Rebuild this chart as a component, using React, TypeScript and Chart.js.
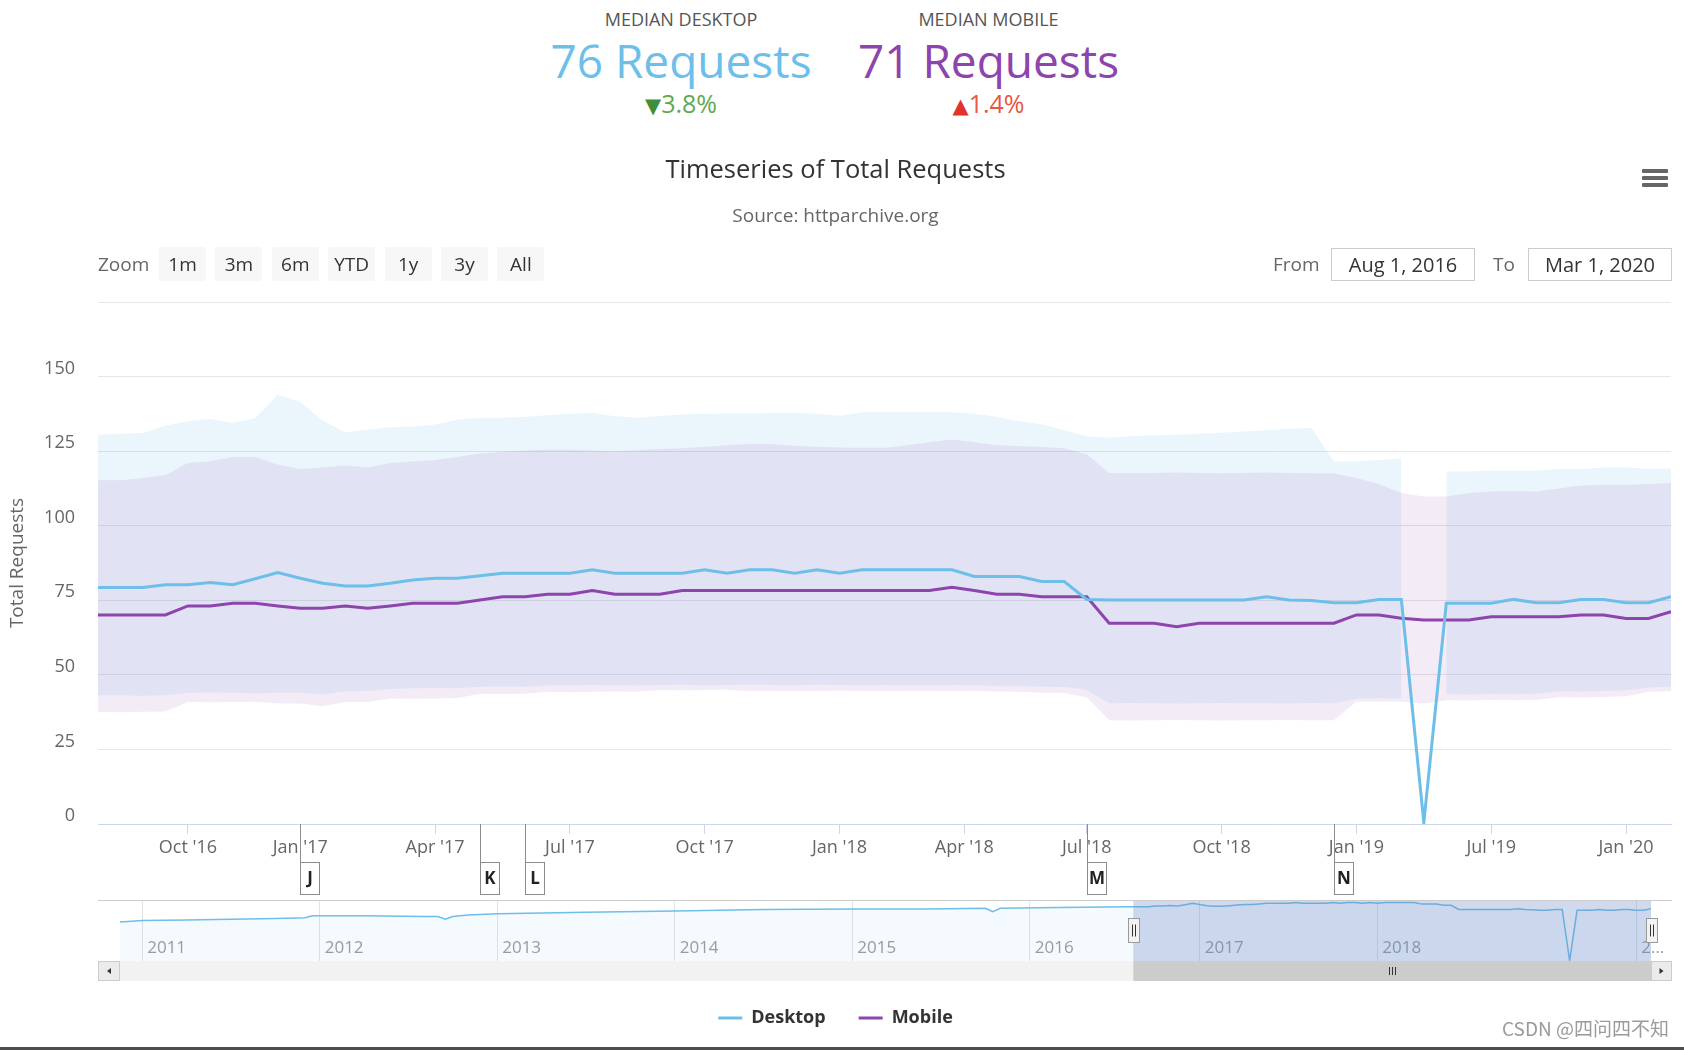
import React, { useEffect, useRef } from 'react';
import { Chart, registerables } from 'chart.js';

Chart.register(...registerables);

const FONT = "'Open Sans', 'DejaVu Sans', sans-serif";
const DESKTOP_COLOR = '#6dbfea';
const MOBILE_COLOR = '#8e44ad';

// ---------------- data ----------------
const dates = [
  '2016-08-01', '2016-08-15', '2016-09-01', '2016-09-15', '2016-10-01', '2016-10-15', '2016-11-01', '2016-11-15', '2016-12-15',
  '2017-01-01', '2017-01-15', '2017-02-01', '2017-02-15', '2017-03-01', '2017-03-15', '2017-04-01', '2017-04-15',
  '2017-05-01', '2017-05-15', '2017-06-01', '2017-06-15', '2017-07-01', '2017-07-15', '2017-08-01', '2017-08-15',
  '2017-09-01', '2017-09-15', '2017-10-01', '2017-10-15', '2017-11-01', '2017-11-15', '2017-12-01', '2017-12-15',
  '2018-01-01', '2018-01-15', '2018-02-01', '2018-02-15', '2018-03-01', '2018-03-15', '2018-04-15', '2018-05-01',
  '2018-05-15', '2018-06-01', '2018-06-15', '2018-07-01', '2018-07-15', '2018-08-01', '2018-08-15', '2018-09-01',
  '2018-09-15', '2018-10-01', '2018-10-15', '2018-11-01', '2018-11-15', '2018-12-01', '2018-12-15',
  '2019-01-01', '2019-02-01', '2019-03-01', '2019-04-01', '2019-05-01', '2019-06-01', '2019-07-01', '2019-08-01',
  '2019-09-01', '2019-10-01', '2019-11-01', '2019-12-01', '2020-01-01', '2020-02-01', '2020-03-01',
];

const desktopMedian = [
  79.3, 79.3, 79.3, 80.2, 80.2, 81.0, 80.2, 82.2, 84.3, 82.4,
  80.7, 79.8, 79.8, 80.7, 81.8, 82.4, 82.4, 83.2, 84.1, 84.1,
  84.1, 84.1, 85.2, 84.1, 84.1, 84.1, 84.1, 85.2, 84.1, 85.2,
  85.2, 84.1, 85.2, 84.1, 85.2, 85.2, 85.2, 85.2, 85.2, 83.0,
  83.0, 83.0, 81.3, 81.3, 75.3, 75.1, 75.1, 75.1, 75.1, 75.1,
  75.1, 75.1, 76.2, 75.1, 74.9, 74.2, 74.2, 75.3, 75.3, 0.5,
  74.0, 74.0, 74.0, 75.3, 74.2, 74.2, 75.3, 75.3, 74.2, 74.2,
  76.2,
];

const mobileMedian = [
  70.1, 70.1, 70.1, 70.1, 73.1, 73.1, 74.0, 74.0, 73.1, 72.3,
  72.3, 73.1, 72.3, 73.1, 74.0, 74.0, 74.0, 75.1, 76.2, 76.2,
  77.0, 77.0, 78.3, 77.0, 77.0, 77.0, 78.3, 78.3, 78.3, 78.3,
  78.3, 78.3, 78.3, 78.3, 78.3, 78.3, 78.3, 78.3, 79.4, 78.3,
  77.0, 77.0, 76.2, 76.2, 76.2, 67.3, 67.3, 67.3, 66.1, 67.3,
  67.3, 67.3, 67.3, 67.3, 67.3, 67.3, 70.1, 70.1, 69.0, 68.4,
  68.4, 68.4, 69.5, 69.5, 69.5, 69.5, 70.1, 70.1, 68.9, 68.9,
  71.2,
];

const desktopHigh = [
  130.5, 130.8, 131.1, 133.5, 135.0, 135.8, 134.5, 136.0, 144.0, 141.5,
  135.3, 131.3, 132.2, 133.0, 133.3, 133.9, 135.5, 136.2, 136.2, 136.5,
  137.0, 137.5, 137.8, 136.7, 136.2, 136.8, 137.3, 137.5, 137.6, 137.6,
  137.8, 137.8, 137.5, 136.9, 138.0, 138.0, 138.0, 138.0, 138.0, 137.5,
  136.5, 135.0, 134.0, 132.0, 130.0, 129.5, 130.0, 130.3, 130.5, 130.8,
  131.2, 131.6, 132.0, 132.5, 132.8, 121.5, 121.5, 122.0, 122.5, null,
  118.2, 118.2, 118.5, 118.5, 118.5, 119.0, 119.0, 119.5, 119.5, 119.0,
  119.3,
];

const desktopLow = [
  43.2, 43.2, 43.0, 43.2, 44.0, 44.2, 44.0, 43.8, 44.0, 44.1,
  43.5, 44.5, 44.6, 45.3, 45.5, 45.6, 45.5, 46.0, 46.1, 46.0,
  46.4, 46.5, 46.6, 46.5, 46.4, 46.6, 46.7, 46.5, 46.6, 46.8,
  46.6, 46.5, 46.7, 46.6, 46.5, 46.6, 46.5, 46.4, 46.6, 46.5,
  46.3, 46.2, 46.0, 45.9, 45.0, 40.5, 40.6, 40.5, 40.4, 40.5,
  40.6, 40.5, 40.5, 40.4, 40.6, 40.5, 42.0, 42.2, 42.0, null,
  43.5, 43.4, 43.6, 43.5, 43.7, 44.5, 44.4, 44.6, 44.8, 45.8,
  46.0,
];

const mobileHigh = [
  115.2, 115.2, 116.0, 117.0, 121.0, 121.6, 123.0, 123.0, 120.5, 119.0,
  119.5, 120.2, 119.5, 121.0, 121.5, 122.0, 123.0, 124.2, 124.8, 125.2,
  125.5, 125.5, 125.2, 125.0, 125.3, 125.7, 126.0, 126.5, 127.0, 127.5,
  127.3, 126.8, 126.5, 126.2, 126.1, 126.1, 127.0, 128.0, 128.9, 128.0,
  127.0, 126.7, 126.4, 126.0, 124.0, 117.7, 117.6, 117.7, 117.8, 117.7,
  117.6, 117.7, 117.8, 117.7, 117.6, 117.5, 116.0, 114.0, 111.0, 109.8,
  109.8, 111.0, 111.5, 111.6, 111.5, 112.5, 113.5, 113.7, 113.7, 114.0,
  114.3,
];

const mobileLow = [
  37.6, 37.5, 37.6, 37.7, 40.9, 40.8, 40.9, 41.0, 40.4, 40.4,
  39.5, 40.9, 40.9, 42.1, 42.0, 42.1, 42.2, 43.7, 43.6, 43.7,
  44.3, 44.2, 44.3, 44.4, 44.3, 44.9, 44.8, 44.9, 45.0, 44.6,
  44.6, 44.5, 44.6, 44.7, 44.6, 44.5, 44.6, 44.6, 44.5, 44.6,
  44.4, 44.3, 44.0, 43.9, 42.5, 34.8, 34.7, 34.8, 34.9, 34.8,
  34.7, 34.8, 34.8, 34.9, 34.8, 34.8, 41.0, 41.1, 41.0, 40.4,
  41.5, 41.4, 41.6, 41.5, 41.6, 42.5, 42.4, 42.6, 42.8, 44.3,
  44.5,
];

const xTickDates = [
  '2016-10-01', '2017-01-01', '2017-04-01', '2017-07-01', '2017-10-01', '2018-01-01',
  '2018-04-01', '2018-07-01', '2018-10-01', '2019-01-01', '2019-07-01', '2020-01-01',
];
const xTickLabels = [
  "Oct '16", "Jan '17", "Apr '17", "Jul '17", "Oct '17", "Jan '18",
  "Apr '18", "Jul '18", "Oct '18", "Jan '19", "Jul '19", "Jan '20",
];

const yTickValues = [0, 25, 50, 75, 100, 125, 150, 175];

const flagDates = ['2017-01-01', '2017-05-01', '2017-06-01', '2018-07-01', '2018-12-15'];
const flagLetters = ['J', 'K', 'L', 'M', 'N'];

// navigator (full history of the desktop median)
const navHistDates = [
  '2010-11-15', '2011-01-01', '2011-04-01', '2011-07-01', '2011-10-01', '2011-12-01', '2011-12-15',
  '2012-04-01', '2012-08-01', '2012-09-01', '2012-09-15', '2012-10-01', '2012-11-01', '2013-01-01',
  '2013-07-01', '2014-01-01', '2014-07-01', '2015-01-01', '2015-06-01', '2015-10-01', '2015-10-15',
  '2015-11-01', '2016-03-01', '2016-07-15',
];
const navHistValues = [
  57, 59, 60, 61, 62, 63, 66,
  66, 65, 65, 61, 65, 67, 69,
  71, 73, 75, 76, 76, 77, 72,
  77, 78, 79,
];
const navYearDates = [
  '2011-01-01', '2012-01-01', '2013-01-01', '2014-01-01', '2015-01-01',
  '2016-01-01', '2017-01-01', '2018-01-01', '2020-01-01',
];
const navYearLabels = ['2011', '2012', '2013', '2014', '2015', '2016', '2017', '2018', '2…'];

const rangeFrom = '2016-08-01';
const rangeTo = '2020-03-01';
const zoomButtons = ['1m', '3m', '6m', 'YTD', '1y', '3y', 'All'];

const medianDesktop = 76;
const medianMobile = 71;
const desktopChange = -3.8;
const mobileChange = 1.4;

const MONTHS = ['Jan', 'Feb', 'Mar', 'Apr', 'May', 'Jun', 'Jul', 'Aug', 'Sep', 'Oct', 'Nov', 'Dec'];

// ---------------- helpers ----------------
const ts = (d: string) => {
  const [y, m, dd] = d.split('-').map(Number);
  return Date.UTC(y, m - 1, dd);
};
const T = dates.map(ts);
// ordinal (equal spacing per data point) position, like an ordinal stock axis
function ordinalPos(d: string) {
  const t = ts(d);
  for (let i = 0; i < T.length - 1; i++) {
    if (t >= T[i] && t <= T[i + 1]) return i + (t - T[i]) / (T[i + 1] - T[i]);
  }
  return t < T[0] ? 0 : T.length - 1;
}
// navigator ordinal: twice-monthly runs in the history, then the actual runs of the main series
function histOrd(d: string) {
  const [y, m, dd] = d.split('-').map(Number);
  return ((y - 2010) * 12 + (m - 1)) * 2 + (dd >= 15 ? 1 : 0) - 21;
}
function navPos(d: string) {
  if (ts(d) >= T[0]) return histOrd(dates[0]) + ordinalPos(d);
  return histOrd(d);
}
function fmtDate(d: string) {
  const [y, m, dd] = d.split('-').map(Number);
  return `${MONTHS[m - 1]} ${dd}, ${y}`;
}
const pts = (arr: any[]) => arr.map((v, i) => ({ x: i, y: v }));

// ---------------- main chart ----------------
function MainChart() {
  const ref = useRef<HTMLCanvasElement>(null);
  useEffect(() => {
    const xTicks = xTickDates.map(ordinalPos);
    const flagsPlugin = {
      id: 'flags',
      afterDraw(chart: any) {
        const { ctx, chartArea } = chart;
        const x = chart.scales.x;
        ctx.save();
        flagDates.forEach((d, k) => {
          const px = Math.round(x.getPixelForValue(ordinalPos(d))) + 0.5;
          const top = 722.5, h = 32, w = 19;
          ctx.strokeStyle = '#8c8c8c';
          ctx.lineWidth = 1;
          ctx.beginPath();
          ctx.moveTo(px, chartArea.bottom);
          ctx.lineTo(px, top);
          ctx.stroke();
          ctx.fillStyle = '#ffffff';
          ctx.fillRect(px, top, w, h);
          ctx.strokeRect(px, top, w, h);
          ctx.fillStyle = '#222';
          ctx.font = `bold 17px ${FONT}`;
          ctx.textAlign = 'center';
          ctx.textBaseline = 'middle';
          ctx.fillText(flagLetters[k], px + w / 2, top + h / 2 + 1);
        });
        ctx.restore();
      },
    };
    const band = (data: any[], color: string | undefined, fill: any) => ({
      label: '',
      data: pts(data),
      borderWidth: 0,
      borderColor: 'transparent',
      backgroundColor: color || 'transparent',
      pointRadius: 0,
      fill,
      tension: 0,
    });
    const chart = new Chart(ref.current as HTMLCanvasElement, {
      type: 'line',
      data: {
        datasets: [
          { label: 'Desktop', data: pts(desktopMedian), borderColor: DESKTOP_COLOR, backgroundColor: DESKTOP_COLOR, borderWidth: 3, pointRadius: 0, fill: false, tension: 0 },
          { label: 'Mobile', data: pts(mobileMedian), borderColor: MOBILE_COLOR, backgroundColor: MOBILE_COLOR, borderWidth: 3, pointRadius: 0, fill: false, tension: 0 },
          band(mobileHigh, 'rgba(142,68,173,0.105)', '+1'),
          band(mobileLow, undefined, false),
          band(desktopHigh, 'rgba(114,194,236,0.15)', '+1'),
          band(desktopLow, undefined, false),
        ] as any,
      },
      options: {
        responsive: false,
        animation: false,
        events: [],
        layout: { padding: { left: 0, right: 13, top: 0, bottom: 13 } },
        plugins: {
          title: {
            display: true,
            text: 'Timeseries of Total Requests',
            color: '#333333',
            font: { family: FONT, size: 25.5, weight: 'normal' },
            padding: { top: 15.4, bottom: 0 },
          },
          subtitle: {
            display: true,
            text: 'Source: httparchive.org',
            color: '#666666',
            font: { family: FONT, size: 19, weight: 'normal' },
            padding: { top: 18.7, bottom: 74.5 },
          },
          legend: {
            display: true,
            position: 'bottom',
            labels: {
              filter: (item: any) => item.datasetIndex < 2,
              usePointStyle: true,
              pointStyle: 'line',
              pointStyleWidth: 24,
              padding: 33,
              color: '#333333',
              font: { family: FONT, size: 18, weight: 'bold' },
            },
          },
          tooltip: { enabled: false },
        },
        scales: {
          x: {
            type: 'linear',
            min: 0,
            max: dates.length - 1,
            afterBuildTicks: (s: any) => { s.ticks = xTicks.map((v) => ({ value: v })); },
            afterFit: (s: any) => { s.height = 152; },
            ticks: {
              autoSkip: false,
              maxRotation: 0,
              padding: 3,
              color: '#666666',
              font: { family: FONT, size: 18 },
              callback: (_v: any, i: number) => xTickLabels[i],
            },
            grid: { display: true, drawOnChartArea: false, drawTicks: true, tickLength: 10, color: '#ccd6eb' },
            border: { display: true, color: '#ccd6eb' },
          },
          y: {
            min: 0,
            max: 175,
            afterBuildTicks: (s: any) => { s.ticks = yTickValues.map((v) => ({ value: v })); },
            afterFit: (s: any) => { s.width = 98; },
            ticks: {
              padding: 23,
              labelOffset: -8,
              color: '#666666',
              font: { family: FONT, size: 18 },
              callback: (v: any) => (v === 175 ? '' : String(v)),
            },
            grid: { color: '#e6e6e6', drawTicks: false },
            border: { display: false },
            title: {
              display: true,
              text: 'Total Requests',
              color: '#666666',
              font: { family: FONT, size: 19 },
              padding: { top: 6.5, bottom: 0 },
            },
          },
        },
      } as any,
      plugins: [flagsPlugin],
    });
    return () => chart.destroy();
  }, []);
  return <canvas ref={ref} width={1684} height={910} style={{ position: 'absolute', left: 0, top: 140 }} />;
}

// ---------------- navigator ----------------
function NavigatorChart() {
  const ref = useRef<HTMLCanvasElement>(null);
  useEffect(() => {
    const navData = [
      ...navHistDates.map((d, i) => ({ x: navPos(d), y: navHistValues[i] })),
      ...dates.map((d, i) => ({ x: navPos(d), y: desktopMedian[i] })),
    ];
    const yearTicks = navYearDates.map(navPos);
    const decor = {
      id: 'navDecor',
      afterDraw(chart: any) {
        const { ctx, chartArea: ca } = chart;
        const x = chart.scales.x;
        const x0 = x.getPixelForValue(navPos(rangeFrom));
        const x1 = x.getPixelForValue(navPos(rangeTo));
        const left = 98, right = 1672;
        ctx.save();
        // selected-range mask
        ctx.fillStyle = 'rgba(102,133,194,0.3)';
        ctx.fillRect(x0, ca.top, x1 - x0, ca.bottom - ca.top);
        // outline
        ctx.strokeStyle = '#cccccc';
        ctx.lineWidth = 1;
        ctx.beginPath();
        ctx.moveTo(left, ca.top + 0.5);
        ctx.lineTo(right, ca.top + 0.5);
        ctx.stroke();
        // scrollbar track
        const sy = ca.bottom, sh = 20;
        ctx.fillStyle = '#f2f2f2';
        ctx.fillRect(left, sy, right - left, sh);
        // thumb
        ctx.fillStyle = '#cccccc';
        ctx.fillRect(x0, sy, x1 - x0, sh);
        const cx = Math.round((x0 + x1) / 2) + 0.5;
        ctx.strokeStyle = '#333';
        ctx.beginPath();
        [-3, 0, 3].forEach((o) => { ctx.moveTo(cx + o, sy + 6); ctx.lineTo(cx + o, sy + 14); });
        ctx.stroke();
        // buttons
        const drawBtn = (bx0: number, bx1: number, dir: number) => {
          ctx.fillStyle = '#ebebeb';
          ctx.fillRect(bx0, sy, bx1 - bx0, sh);
          ctx.strokeStyle = '#cccccc';
          ctx.strokeRect(bx0 + 0.5, sy + 0.5, bx1 - bx0 - 1, sh - 1);
          const mx = (bx0 + bx1) / 2, my = sy + sh / 2;
          ctx.fillStyle = '#333';
          ctx.beginPath();
          ctx.moveTo(mx + 2 * dir, my);
          ctx.lineTo(mx - 2 * dir, my - 3);
          ctx.lineTo(mx - 2 * dir, my + 3);
          ctx.closePath();
          ctx.fill();
        };
        drawBtn(left, ca.left, -1);
        drawBtn(ca.right, right, 1);
        // handles
        [x0, x1].forEach((hx) => {
          const rx = Math.round(hx - 5.5) + 0.5, ry = ca.top + 18.5;
          ctx.fillStyle = '#f2f2f2';
          ctx.fillRect(rx, ry, 11, 24);
          ctx.strokeStyle = '#999999';
          ctx.strokeRect(rx, ry, 11, 24);
          ctx.strokeStyle = '#333';
          ctx.beginPath();
          ctx.moveTo(rx + 4, ry + 6); ctx.lineTo(rx + 4, ry + 18);
          ctx.moveTo(rx + 7, ry + 6); ctx.lineTo(rx + 7, ry + 18);
          ctx.stroke();
        });
        ctx.restore();
      },
    };
    const chart = new Chart(ref.current as HTMLCanvasElement, {
      type: 'line',
      data: {
        datasets: [{
          label: 'Desktop',
          data: navData,
          borderColor: DESKTOP_COLOR,
          borderWidth: 1.5,
          backgroundColor: 'rgba(114,194,236,0.08)',
          fill: 'origin',
          pointRadius: 0,
          tension: 0,
        }],
      },
      options: {
        responsive: false,
        animation: false,
        events: [],
        layout: { padding: { left: 120, right: 33, top: 5, bottom: 0 } },
        plugins: { legend: { display: false }, tooltip: { enabled: false }, title: { display: false } },
        scales: {
          x: {
            type: 'linear',
            min: 0,
            max: navPos(rangeTo),
            afterBuildTicks: (s: any) => { s.ticks = yearTicks.map((v) => ({ value: v })); },
            afterFit: (s: any) => { s.height = 24; },
            ticks: {
              autoSkip: false,
              maxRotation: 0,
              align: 'start',
              mirror: true,
              labelOffset: 5,
              padding: 3,
              color: '#999999',
              font: { family: FONT, size: 17 },
              callback: (_v: any, i: number) => navYearLabels[i],
            },
            grid: { drawOnChartArea: true, drawTicks: false, color: '#e3e3e3' },
            border: { display: false },
          },
          y: { display: false, min: 0, max: 89 },
        },
      } as any,
      plugins: [decor],
    });
    return () => chart.destroy();
  }, []);
  return <canvas ref={ref} width={1684} height={90} style={{ position: 'absolute', left: 0, top: 895 }} />;
}

// ---------------- header stats ----------------
function Stat(props: { cx: number; label: string; value: number; color: string; change: number }) {
  const { cx, label, value, color, change } = props;
  const up = change > 0;
  const triColor = up ? '#e0332a' : '#3f8f3a';
  const txtColor = up ? '#e8573f' : '#62a851';
  const box = { position: 'absolute' as const, left: cx - 200, width: 400, textAlign: 'center' as const, lineHeight: 1, whiteSpace: 'nowrap' as const };
  return (
    <>
      <div style={{ ...box, top: 10, fontSize: 18, color: '#555' }}>{label}</div>
      <div style={{ ...box, top: 37, fontSize: 46, color }}>{value} Requests</div>
      <div style={{ ...box, top: 91, fontSize: 25 }}>
        <span style={{ color: triColor, fontFamily: "'DejaVu Sans', sans-serif", fontSize: 21 }}>{up ? '▲' : '▼'}</span>
        <span style={{ color: txtColor }}>{Math.abs(change).toFixed(1)}%</span>
      </div>
    </>
  );
}

export default function App() {
  const btnBase = {
    position: 'absolute' as const, top: 247, height: 34, lineHeight: '34px', fontSize: 19,
    textAlign: 'center' as const, color: '#333', background: '#f7f7f7', borderRadius: 2,
  };
  const inputBase = {
    position: 'absolute' as const, top: 248, height: 33, width: 144, boxSizing: 'border-box' as const,
    border: '1px solid #cccccc', lineHeight: '31px', fontSize: 20, textAlign: 'center' as const, color: '#333',
    background: '#fff',
  };
  return (
    <div style={{ position: 'relative', width: 1684, height: 1050, background: '#ffffff', fontFamily: FONT, overflow: 'hidden' }}>
      <style>{'html,body{margin:0;padding:0;background:#fff;}'}</style>
      <Stat cx={681} label="MEDIAN DESKTOP" value={medianDesktop} color={DESKTOP_COLOR} change={desktopChange} />
      <Stat cx={988.5} label="MEDIAN MOBILE" value={medianMobile} color={MOBILE_COLOR} change={mobileChange} />

      <MainChart />
      <NavigatorChart />

      {/* export menu icon */}
      {[169, 176, 183].map((t) => (
        <div key={t} style={{ position: 'absolute', left: 1642, top: t, width: 26, height: 4, background: '#666', borderRadius: 1 }} />
      ))}

      {/* range selector */}
      <div style={{ position: 'absolute', left: 98, top: 247, height: 34, lineHeight: '34px', fontSize: 19, color: '#666' }}>Zoom</div>
      {zoomButtons.map((b, k) => (
        <div key={b} style={{ ...btnBase, left: 159 + k * 56.4, width: 47 }}>{b}</div>
      ))}
      <div style={{ position: 'absolute', left: 1273, top: 247, height: 34, lineHeight: '34px', fontSize: 19, color: '#666' }}>From</div>
      <div style={{ ...inputBase, left: 1331 }}>{fmtDate(rangeFrom)}</div>
      <div style={{ position: 'absolute', left: 1493, top: 247, height: 34, lineHeight: '34px', fontSize: 19, color: '#666' }}>To</div>
      <div style={{ ...inputBase, left: 1528 }}>{fmtDate(rangeTo)}</div>

      {/* watermark */}
      <div style={{ position: 'absolute', right: 15, top: 1018, fontSize: 19, lineHeight: 1, color: '#9a9a9a', fontFamily: "'Noto Sans CJK SC', sans-serif" }}>
        CSDN @四问四不知
      </div>
      <div style={{ position: 'absolute', left: 0, top: 1047, width: 1684, height: 3, background: '#4d4d4d' }} />
    </div>
  );
}
